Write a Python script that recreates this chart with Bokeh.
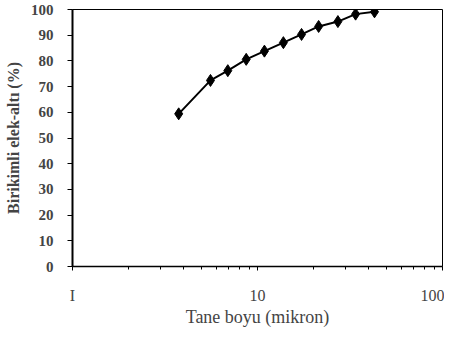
from bokeh.plotting import figure
from bokeh.models import FixedTicker, Range1d
from bokeh.embed import file_html
from bokeh.resources import INLINE

size_um = [3.75, 5.57, 6.91, 8.69, 10.9, 13.8, 17.3, 21.4, 27.2, 33.9, 42.9]
cum_pass = [59.4, 72.4, 76.2, 80.6, 83.8, 87.1, 90.3, 93.4, 95.3, 98.2, 99.1]
x_ticks = [1, 10, 100]
x_tick_labels = ["I", "10", "100"]
y_ticks = list(range(0, 101, 10))

FONT = "'Liberation Serif', 'Times New Roman', serif"

p = figure(width=444, height=329, x_axis_type="log", output_backend="svg",
           toolbar_location=None, min_border_left=72, min_border_right=2,
           min_border_top=9, min_border_bottom=61)
p.x_range = Range1d(1, 100)
p.y_range = Range1d(0, 100)

p.line(size_um, cum_pass, line_color="black", line_width=2)
p.scatter(size_um, cum_pass, marker="diamond", size=12, fill_color="black",
          line_color="black")

p.xgrid.visible = False
p.ygrid.visible = False
p.outline_line_color = "black"
p.outline_line_width = 1

xa = p.xaxis[0]
xa.ticker = FixedTicker(ticks=x_ticks, minor_ticks=[2, 3, 4, 5, 6, 7, 8, 9, 20, 30, 40, 50, 60, 70, 80, 90])
xa.major_label_overrides = {t: l for t, l in zip(x_ticks, x_tick_labels)}
xa.axis_label = "Tane boyu (mikron)"
xa.axis_label_text_font = FONT
xa.axis_label_text_font_style = "normal"
xa.axis_label_text_font_size = "18px"
xa.axis_label_standoff = 0
xa.major_label_text_font = FONT
xa.major_label_text_font_size = "16px"
xa.major_label_standoff = 16
xa.major_tick_in = 0
xa.major_tick_out = 4
xa.minor_tick_in = 0
xa.minor_tick_out = 3
xa.axis_line_color = "black"
xa.axis_line_width = 1.5

ya = p.yaxis[0]
ya.ticker = FixedTicker(ticks=y_ticks, minor_ticks=[])
ya.axis_label = "Birikimli elek-altı (%)"
ya.axis_label_text_font = FONT
ya.axis_label_text_font_style = "bold"
ya.axis_label_text_font_size = "16px"
ya.axis_label_standoff = 6
ya.major_label_text_font = FONT
ya.major_label_text_font_style = "bold"
ya.major_label_text_font_size = "15px"
ya.major_label_standoff = 14
ya.major_tick_in = 0
ya.major_tick_out = 5
ya.axis_line_color = "black"
ya.axis_line_width = 2

open("out.html", "w").write(file_html(p, INLINE))
